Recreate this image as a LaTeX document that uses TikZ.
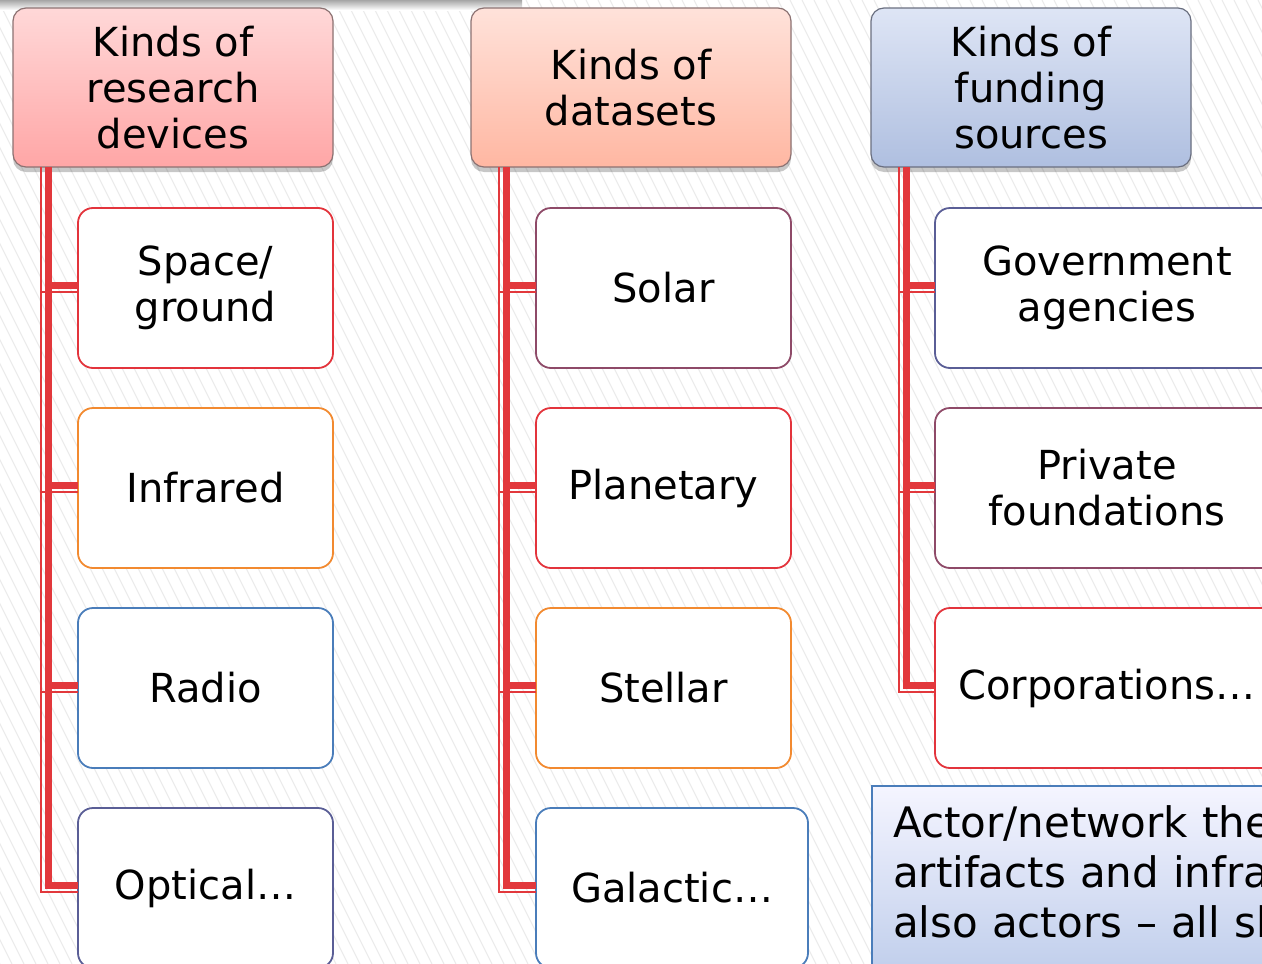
\documentclass[tikz,border=0pt]{standalone}
\usepackage{fontspec}
\setmainfont{DejaVu Sans}
\usetikzlibrary{shadows}

\definecolor{linkred}{HTML}{E2383C}
\definecolor{headline}{HTML}{8C7272}
\definecolor{leafred}{HTML}{E3343C}
\definecolor{leaforange}{HTML}{F28A30}
\definecolor{leafblue}{HTML}{4A7DBA}
\definecolor{leafnavy}{HTML}{5A5E96}
\definecolor{leafplum}{HTML}{8E4A68}
\newcommand\boxfont{\fontsize{40}{46}\selectfont}
\newcommand\notefont{\fontsize{42}{50}\selectfont}

\tikzset{
        hatch/.style={gray!16,line width=1pt},
        head/.style={draw=headline,line width=1.2pt,rounded corners=13pt,
          minimum width=320pt,minimum height=159pt,inner sep=0pt,outer sep=0pt,
          anchor=north west,align=center,font=\boxfont,
          drop shadow={shadow xshift=0pt,shadow yshift=-5pt,opacity=.22,fill=black}},
        leaf/.style={fill=white,line width=1.8pt,rounded corners=15pt,
          minimum width=255pt,minimum height=160pt,inner sep=0pt,outer sep=0pt,
          anchor=north west,align=center,font=\boxfont},
        note/.style={draw=leafblue,line width=2pt,top color=blue!4!white,
          bottom color={rgb,255:red,182;green,199;blue,232},
          anchor=north west,inner xsep=21pt,inner ysep=20pt,outer sep=0pt,
          text width=420pt,align=left,font=\notefont},
        trunk/.style={linkred,line width=7pt},
        twig/.style={linkred,line width=2pt},
}

\begin{document}
\begin{tikzpicture}[x=1pt,y=-1pt]
        \useasboundingbox (0,0) rectangle (1262,964) ;
        \clip (0,0) rectangle (1262,964) ;
        % background
        \fill[white] (0,0) rectangle (1262,964) ;
        \foreach \i in {-482,-470,...,1262}
        \draw[hatch] (\i,0) -- ++(482,964) ;
        \shade[top color=black!35,bottom color=white] (0,0) rectangle (522,10) ;

        % headers
        \node[head,top color={rgb,255:red,255;green,216;blue,216},
          bottom color={rgb,255:red,255;green,166;blue,166}]
          (dev) at (13,8) {Kinds of\\research\\devices} ;
        \node[head,top color={rgb,255:red,255;green,226;blue,218},
          bottom color={rgb,255:red,255;green,183;blue,162}]
          (data) at (471,8) {Kinds of\\datasets} ;
        \node[head,draw={rgb,255:red,106;green,111;blue,128},
          top color={rgb,255:red,222;green,229;blue,245},
          bottom color={rgb,255:red,175;green,191;blue,224}]
          (fund) at (871,8) {Kinds of\\funding\\sources} ;

        % leaves
        \node[leaf,draw=leafred] (dev1) at (78,208) {Space/\\ground} ;
        \node[leaf,draw=leaforange] (dev2) at (78,408) {Infrared} ;
        \node[leaf,draw=leafblue] (dev3) at (78,608) {Radio} ;
        \node[leaf,draw=leafnavy] (dev4) at (78,808) {Optical…} ;

        \node[leaf,draw=leafplum] (data1) at (536,208) {Solar} ;
        \node[leaf,draw=leafred] (data2) at (536,408) {Planetary} ;
        \node[leaf,draw=leaforange] (data3) at (536,608) {Stellar} ;
        \node[leaf,draw=leafblue,minimum width=272pt] (data4) at (536,808) {Galactic…} ;

        \node[leaf,draw=leafnavy,minimum width=344pt] (fund1) at (935,208) {Government\\agencies} ;
        \node[leaf,draw=leafplum,minimum width=344pt] (fund2) at (935,408) {Private\\foundations} ;
        \node[leaf,draw=leafred,minimum width=344pt] (fund3) at (935,608) {Corporations…} ;

        % connectors
        \foreach \h/\last in {dev/dev4,data/data4,fund/fund3} {
          \coordinate (t\h) at ([xshift=35pt]\h.south west) ;
          \coordinate (s\h) at ([xshift=28pt]\h.south west) ;
          \draw[trunk] (t\h) |- ([yshift=3pt]\last.west) ;
          \draw[twig] (s\h) |- ([yshift=-4pt]\last.west) ;
        }
        \foreach \h/\c in {dev/dev1,dev/dev2,dev/dev3,data/data1,data/data2,
          data/data3,fund/fund1,fund/fund2} {
          \draw[trunk] ([yshift=3pt]\c.west) -- ([yshift=3pt]\c.west -| t\h) ;
          \draw[twig] ([yshift=-4pt]\c.west) -- ([yshift=-4pt]\c.west -| s\h) ;
        }

        % note box
        \node[note] (actor) at (872,786)
          {Actor/network the\\artifacts and infra\\also actors – all sh\\\mbox{}} ;
\end{tikzpicture}
\end{document}
